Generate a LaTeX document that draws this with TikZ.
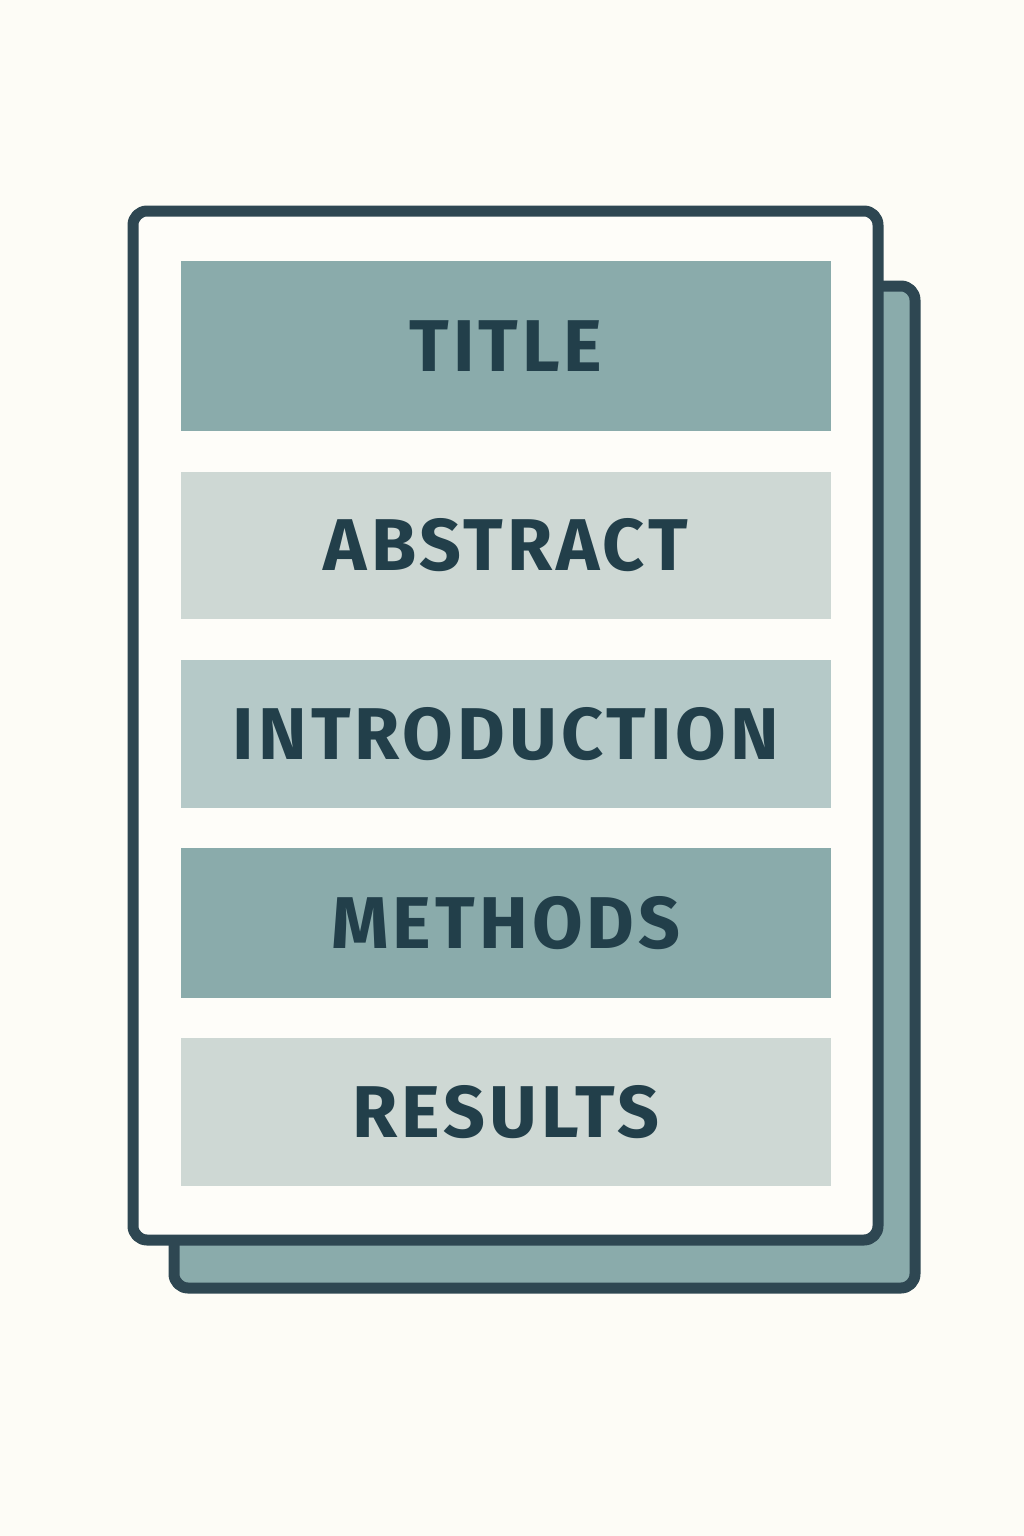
\documentclass[tikz,border=0pt]{standalone}
\usepackage{fontspec}
\setmainfont{Fira Sans}[LetterSpace=5.5]
\definecolor{paper}{RGB}{253,252,246}
\definecolor{sheet}{RGB}{254,253,249}
\definecolor{inkline}{RGB}{46,71,82}
\definecolor{inktext}{RGB}{34,63,74}
\definecolor{tealdark}{RGB}{138,171,171}
\definecolor{tealmid}{RGB}{181,201,200}
\definecolor{teallight}{RGB}{206,216,212}
\tikzset{
  band/.style={fill=#1, draw=none, inner sep=0pt, outer sep=0pt,
    minimum width=487.5pt, text=inktext, font=\fontsize{55}{60}\selectfont\bfseries},
  pageframe/.style={draw=inkline, line width=8.25pt, rounded corners=10.5pt, line join=round}
}
\begin{document}
\begin{tikzpicture}[x=0.75pt,y=0.75pt,yscale=-1,xscale=1]
% background
\fill[paper] (0,0) rectangle (1024,1536);
\useasboundingbox (0,0) rectangle (1024,1536);

%Shape: Rectangle (back sheet)
\draw[pageframe, fill=tealdark] (174,286) rectangle (915,1288);
%Shape: Rectangle (front sheet)
\draw[pageframe, fill=sheet] (133,211) rectangle (878,1240);

% Text Node
\node[band=tealdark, minimum height=127.5pt] (title) at (506,346) {TITLE};
% Text Node
\node[band=teallight, minimum height=110.25pt] (abstract) at (506,545.5) {ABSTRACT};
% Text Node
\node[band=tealmid, minimum height=111pt] (intro) at (506,734) {INTRODUCTION};
% Text Node
\node[band=tealdark, minimum height=112.5pt] (methods) at (506,923) {METHODS};
% Text Node
\node[band=teallight, minimum height=111pt] (results) at (506,1112) {RESULTS};

\end{tikzpicture}
\end{document}
